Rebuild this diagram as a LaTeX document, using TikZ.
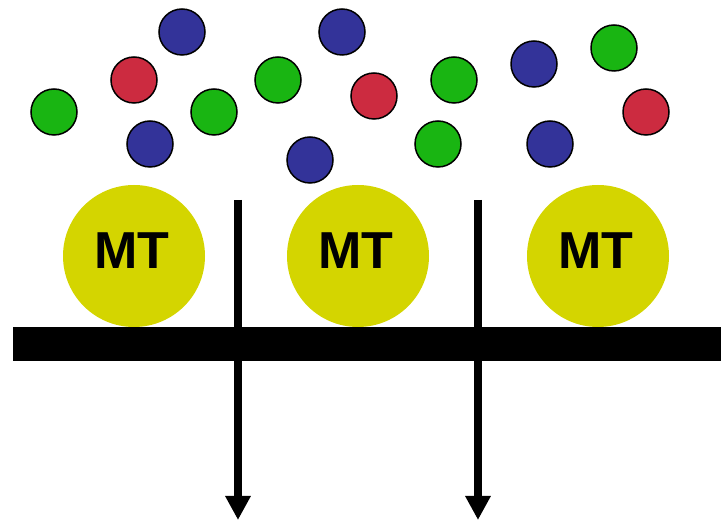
\documentclass[tikz,border=0pt]{standalone}
\usepackage{fontspec}
\setmainfont{Liberation Sans}
\usetikzlibrary{arrows.meta}
\definecolor{mtyellow}{HTML}{D4D500}
\definecolor{iblue}{HTML}{333399}
\definecolor{ired}{HTML}{CC2B40}
\definecolor{igreen}{HTML}{19B512}
\tikzset{
  ion/.style={circle, draw=black, line width=1.5pt, minimum size=46pt, inner sep=0pt},
  mt/.style={circle, fill=mtyellow, minimum size=142pt, inner sep=0pt, font=\fontsize{52}{60}\selectfont\bfseries},
  flux/.style={line width=8pt, -{Triangle[width=24pt,length=24pt]}}
}
\begin{document}
\begin{tikzpicture}[x=1pt,y=-1pt]
\useasboundingbox (0,0) rectangle (721,521);
% ions
\node[ion, fill=igreen] (g1) at (54,112) {};
\node[ion, fill=ired] (r1) at (134,80) {};
\node[ion, fill=iblue] (b1) at (182,32) {};
\node[ion, fill=iblue] (b2) at (150,144) {};
\node[ion, fill=igreen] (g2) at (214,112) {};
\node[ion, fill=igreen] (g3) at (278,80) {};
\node[ion, fill=iblue] (b3) at (342,32) {};
\node[ion, fill=iblue] (b4) at (310,160) {};
\node[ion, fill=ired] (r2) at (374,96) {};
\node[ion, fill=igreen] (g4) at (454,80) {};
\node[ion, fill=igreen] (g5) at (438,144) {};
\node[ion, fill=iblue] (b5) at (534,64) {};
\node[ion, fill=iblue] (b6) at (550,144) {};
\node[ion, fill=igreen] (g6) at (614,48) {};
\node[ion, fill=ired] (r3) at (646,112) {};
% MT circles
\node[mt] (mt1) at (134,256) {};
\node[mt] (mt2) at (358,256) {};
\node[mt] (mt3) at (598,256) {};
\node[font=\fontsize{52}{60}\selectfont\bfseries] (t1) at (132,251) {MT};
\node[font=\fontsize{52}{60}\selectfont\bfseries] (t2) at (356,251) {MT};
\node[font=\fontsize{52}{60}\selectfont\bfseries] (t3) at (596,251) {MT};
% membrane bar
\fill[black] (13,327) rectangle (721,361);
\coordinate (bar) at (367,344);
% flux arrows
\coordinate (a1s) at (238,200);
\coordinate (a1e) at (238,520);
\coordinate (a2s) at (478,200);
\coordinate (a2e) at (478,520);
\draw[flux] (a1s) -- (a1e);
\draw[flux] (a2s) -- (a2e);
\end{tikzpicture}
\end{document}
